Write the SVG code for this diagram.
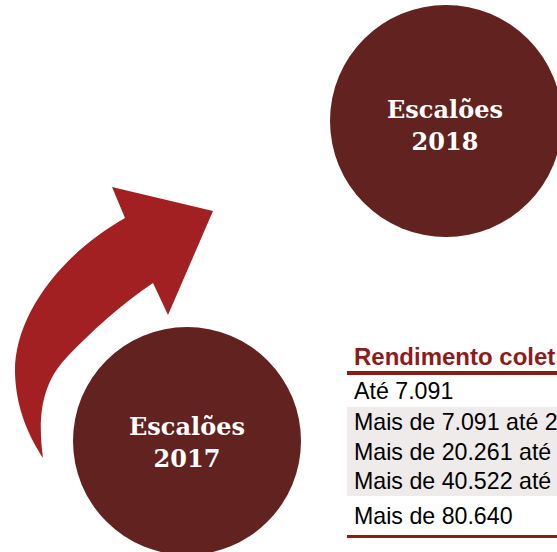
<svg xmlns="http://www.w3.org/2000/svg" width="557" height="552" viewBox="0 0 557 552">
<style>
.circ{fill:#612220}
.ctxt{font-family:"DejaVu Serif","Liberation Serif",serif;font-weight:bold;font-size:24px;fill:#ffffff;text-anchor:middle}
.title{font-family:"Liberation Sans",Arial,sans-serif;font-weight:bold;font-size:24px;fill:#8C1C1C}
.row{font-family:"Liberation Sans",Arial,sans-serif;font-size:23.2px;fill:#000000}
.rule{fill:#8C1C1C}
.band{fill:#EFEBEB}
</style>
<rect width="557" height="552" fill="#ffffff"/>
<g id="connectors">
<path d="M213,211 L112,187 L125,218 C55,258 14,320 15,373 C16,410 30,438 43,458 C38,420 40,385 67,357 C90,333 120,305 153,283 L168,315 Z" fill="#A32022"/>
</g>
<g id="node-2018">
<circle class="circ" cx="446" cy="121" r="116"/>
<text class="ctxt" x="445" y="118">Escalões</text>
<text class="ctxt" x="445" y="150">2018</text>
</g>
<g id="node-2017">
<circle class="circ" cx="187" cy="441" r="114"/>
<text class="ctxt" x="187" y="435">Escalões</text>
<text class="ctxt" x="187" y="467">2017</text>
</g>
<g id="table">
<rect class="band" x="347" y="407" width="210" height="89"/>
<text class="title" x="354" y="365">Rendimento colet</text>
<rect class="rule" x="347" y="371" width="210" height="4"/>
<text class="row" x="354" y="399">Até 7.091</text>
<text class="row" x="354" y="430">Mais de 7.091 até 2</text>
<text class="row" x="354" y="460">Mais de 20.261 até</text>
<text class="row" x="354" y="489">Mais de 40.522 até</text>
<text class="row" x="354" y="524">Mais de 80.640</text>
<rect class="rule" x="347" y="535" width="210" height="3"/>
</g>
</svg>
